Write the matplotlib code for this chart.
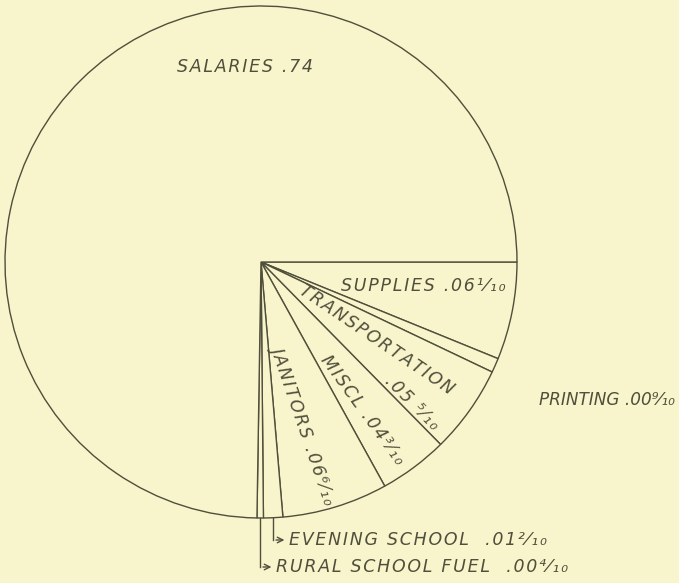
import numpy as np
import matplotlib.pyplot as plt

# school expenditure per dollar, as lettered on the chart
categories = ["Supplies", "Printing", "Transportation", "Miscl", "Janitors",
              "Evening School", "Rural School Fuel", "Salaries"]
shares = [0.061, 0.009, 0.055, 0.043, 0.066, 0.012, 0.004, 0.74]

paper = "#f8f4cb"
ink = "#4f4f3c"

fig = plt.figure(figsize=(6.79, 5.83), dpi=100, facecolor=paper)
ax = fig.add_axes([0, 0, 1, 1])
ax.set_facecolor(paper)

# pie in pixel-like coords (y flipped, so counterclock appears clockwise)
cx, cy, r = 261, 262, 256
wedges, _ = ax.pie(shares, startangle=0, counterclock=True, center=(cx, cy),
                   radius=r, colors=[paper] * len(shares),
                   wedgeprops=dict(edgecolor=ink, linewidth=1.0))
ax.set_xlim(0, 679)
ax.set_ylim(583, 0)
ax.set_aspect("equal")
ax.axis("off")

font = dict(family="DejaVu Sans", style="italic", color=ink, fontsize=12.5)


def lab(x, y, s, rot=0, ha="center", loose=True, **kw):
    # hand lettering is loosely spaced: put hair spaces between letters
    if loose:
        s = "\u200a".join(s)
    kw = {**font, **kw}
    ax.text(x, y, s, rotation=rot, ha=ha, va="center", rotation_mode="anchor",
            **kw)


lab(245, 67, "SALARIES .74")
lab(423, 286, "SUPPLIES .06¹⁄₁₀")
lab(376, 340, "TRANSPORTATION", rot=-34)
lab(412, 403, ".05 ⁵⁄₁₀", rot=-45)
lab(362, 410, "MISCL .04³⁄₁₀", rot=-54)
lab(304, 424, "JANITORS .06⁶⁄₁₀", rot=-71)
lab(539, 400, "PRINTING .00⁹⁄₁₀", ha="left", loose=False, fontsize=12.2)


def foot(w):
    # x where the middle of a wedge meets the rim
    a = np.deg2rad((w.theta1 + w.theta2) / 2)
    return cx + r * np.cos(a), cy + r * np.sin(a)


# leader arrows for the two thin slices
for w, y, txt in [(wedges[5], 540, "EVENING SCHOOL  .01²⁄₁₀"),
                  (wedges[6], 567, "RURAL SCHOOL FUEL  .00⁴⁄₁₀")]:
    x0, y0 = foot(w)
    ax.plot([x0, x0], [y0, y], color=ink, lw=1)
    ax.annotate("", xy=(x0 + 14, y), xytext=(x0, y),
                arrowprops=dict(arrowstyle="->", color=ink, lw=1))
    lab(x0 + 16, y, txt, ha="left")

fig.savefig("out.png", dpi=100, facecolor=paper)
